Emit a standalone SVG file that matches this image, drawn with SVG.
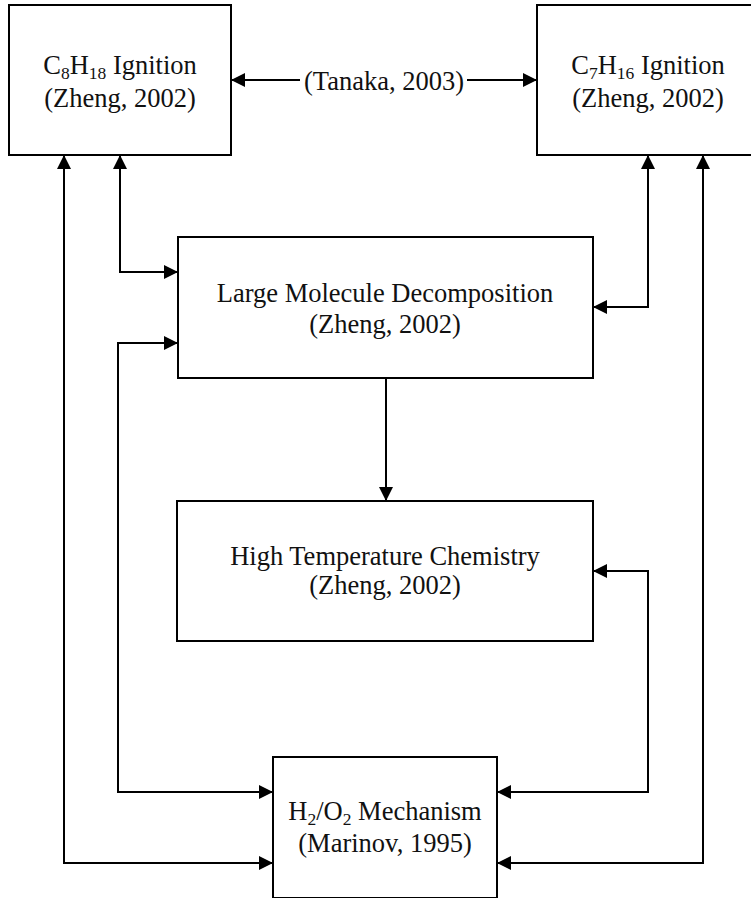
<svg xmlns="http://www.w3.org/2000/svg" width="751" height="898" viewBox="0 0 751 898">
<style>
.box{fill:#fff;stroke:#000;stroke-width:2}
.t{font-family:"Liberation Serif","Times New Roman",serif;font-size:26.5px;fill:#111;text-anchor:middle}
.s{font-size:17.5px}
.c{fill:none;stroke:#000;stroke-width:2}
</style>
<defs>
<marker id="ah" markerUnits="userSpaceOnUse" markerWidth="16" markerHeight="14" refX="14" refY="7" orient="auto-start-reverse">
<path d="M0,0 L14,7 L0,14 Z" fill="#000"/>
</marker>
</defs>
<rect width="751" height="898" fill="#fff"/>
<g id="c8h18">
<rect class="box" x="9" y="5" width="222" height="150"/>
<text class="t" x="120" y="74">C<tspan class="s" dy="4.5">8</tspan><tspan dy="-4.5">H</tspan><tspan class="s" dy="4.5">18</tspan><tspan dy="-4.5"> Ignition</tspan></text>
<text class="t" x="120" y="107">(Zheng, 2002)</text>
</g>
<g id="c7h16">
<rect class="box" x="537" y="5" width="222" height="150"/>
<text class="t" x="648" y="74">C<tspan class="s" dy="4.5">7</tspan><tspan dy="-4.5">H</tspan><tspan class="s" dy="4.5">16</tspan><tspan dy="-4.5"> Ignition</tspan></text>
<text class="t" x="648" y="107">(Zheng, 2002)</text>
</g>
<g id="lmd">
<rect class="box" x="178" y="237" width="415" height="141"/>
<text class="t" x="385" y="302">Large Molecule Decomposition</text>
<text class="t" x="385" y="333">(Zheng, 2002)</text>
</g>
<g id="htc">
<rect class="box" x="177" y="501" width="416" height="140"/>
<text class="t" x="385" y="565">High Temperature Chemistry</text>
<text class="t" x="385" y="594">(Zheng, 2002)</text>
</g>
<g id="h2o2">
<rect class="box" x="273" y="757" width="224" height="141"/>
<text class="t" x="385" y="820">H<tspan class="s" dy="4.5">2</tspan><tspan dy="-4.5">/O</tspan><tspan class="s" dy="4.5">2</tspan><tspan dy="-4.5"> Mechanism</tspan></text>
<text class="t" x="385" y="852">(Marinov, 1995)</text>
</g>
<g id="connectors">
<path class="c" d="M300,80 H231" marker-end="url(#ah)"/>
<path class="c" d="M467,80 H537" marker-end="url(#ah)"/>
<text class="t" x="384" y="90">(Tanaka, 2003)</text>
<path class="c" d="M178,272 H120 V155" marker-start="url(#ah)" marker-end="url(#ah)"/>
<path class="c" d="M64,155 V863 H273" marker-start="url(#ah)" marker-end="url(#ah)"/>
<path class="c" d="M178,343 H118 V792 H273" marker-start="url(#ah)" marker-end="url(#ah)"/>
<path class="c" d="M648,155 V307 H593" marker-start="url(#ah)" marker-end="url(#ah)"/>
<path class="c" d="M703,155 V863 H497" marker-start="url(#ah)" marker-end="url(#ah)"/>
<path class="c" d="M593,571 H648 V792 H497" marker-start="url(#ah)" marker-end="url(#ah)"/>
<path class="c" d="M386,378 V501" marker-end="url(#ah)"/>
</g>
</svg>
